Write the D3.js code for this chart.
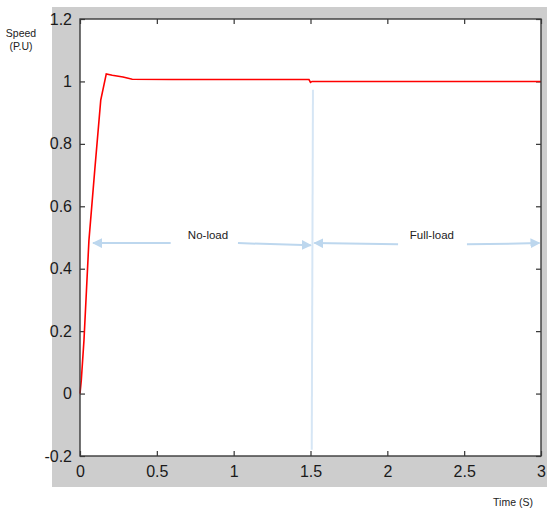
<!DOCTYPE html>
<html>
<head>
<meta charset="utf-8">
<script src="https://cdn.jsdelivr.net/npm/d3@7"></script>
<style>
  body { margin: 0; background: #fff; }
  svg text { font-family: "Liberation Sans Narrow", "Arial Narrow", "Liberation Sans", sans-serif; }
</style>
</head>
<body>
<div id="chart"></div>
<script>
// speed response
const timeS   = [0, 0.0085, 0.026, 0.042, 0.058, 0.096, 0.135, 0.171, 0.21, 0.28, 0.34, 0.6, 1.0, 1.49, 1.5, 1.51, 2.0, 3.0];
const speedPU = [0, 0.043, 0.172, 0.33, 0.49, 0.716, 0.94, 1.024, 1.02, 1.014, 1.007, 1.006, 1.006, 1.006, 0.997, 1.0, 1.0, 1.0];

const xTicks = [0, 0.5, 1, 1.5, 2, 2.5, 3];
const yTicks = [-0.2, 0, 0.2, 0.4, 0.6, 0.8, 1, 1.2];

// annotation arrows (data coords)
const noLoadArrow   = [[0.59, 0.482], [0.085, 0.482]];
const noLoadArrow2  = [[1.028, 0.482], [1.502, 0.475]];
const fullLoadArrow = [[2.07, 0.478], [1.525, 0.482]];
const fullLoadArrow2 = [[2.518, 0.478], [2.99, 0.482]];
const loadStep = [[1.516, 0.973], [1.508, -0.18]];
const labels = [{t: 0.833, v: 0.505, text: "No-load"}, {t: 2.29, v: 0.505, text: "Full-load"}];

const W = 547, H = 509;
const margin = {top: 19, right: 6, bottom: 53, left: 80};
const width = W - margin.left - margin.right;
const height = H - margin.top - margin.bottom;

const svg = d3.select("#chart").append("svg")
  .attr("width", W)
  .attr("height", H);

// grey figure background
svg.append("rect")
  .attr("x", 52).attr("y", 7)
  .attr("width", 495).attr("height", 480)
  .attr("fill", "#cdcdcd");

const g = svg.append("g")
  .attr("transform", `translate(${margin.left},${margin.top})`);

const x = d3.scaleLinear().domain([0, 3]).range([0, width]);
const y = d3.scaleLinear().domain([-0.2, 1.2]).range([height, 0]);

g.append("rect")
  .attr("width", width).attr("height", height)
  .attr("fill", "#fff");

const fmt = d => String(d);

// axes with inward ticks, mirrored on top / right like a boxed plot
const tickCol = "#333";
g.append("g").attr("transform", `translate(0,${height})`)
  .call(d3.axisBottom(x).tickValues(xTicks).tickSize(-5).tickPadding(10).tickFormat(fmt))
  .call(a => a.select(".domain").remove());
g.append("g")
  .call(d3.axisTop(x).tickValues(xTicks).tickSize(-5).tickFormat(""))
  .call(a => a.select(".domain").remove());
g.append("g")
  .call(d3.axisLeft(y).tickValues(yTicks).tickSize(-5).tickPadding(8).tickFormat(fmt))
  .call(a => a.select(".domain").remove());
g.append("g").attr("transform", `translate(${width},0)`)
  .call(d3.axisRight(y).tickValues(yTicks).tickSize(-5).tickFormat(""))
  .call(a => a.select(".domain").remove());

g.selectAll(".tick line").attr("stroke", tickCol).attr("stroke-width", 1.2);
g.selectAll(".tick text")
  .attr("fill", "#1a1a1a")
  .attr("font-size", 16)
  .attr("font-family", "'Liberation Sans Narrow', 'Arial Narrow', sans-serif");

// annotations
const arrowCol = "#bdd7ee";
const defs = svg.append("defs");
defs.append("marker")
  .attr("id", "ah")
  .attr("viewBox", "0 0 10 10")
  .attr("refX", 9).attr("refY", 5)
  .attr("markerWidth", 5).attr("markerHeight", 5)
  .attr("markerUnits", "strokeWidth")
  .attr("orient", "auto")
  .append("path")
  .attr("d", "M0,0 L10,5 L0,10 Z")
  .attr("fill", arrowCol);

const line = d3.line().x(d => x(d[0])).y(d => y(d[1]));

g.append("path")
  .datum(loadStep)
  .attr("d", line)
  .attr("stroke", "#d6e6f5")
  .attr("stroke-width", 2)
  .attr("fill", "none");

[noLoadArrow, noLoadArrow2, fullLoadArrow, fullLoadArrow2].forEach(seg => {
  g.append("path")
    .datum(seg)
    .attr("d", line)
    .attr("stroke", arrowCol)
    .attr("stroke-width", 2)
    .attr("fill", "none")
    .attr("marker-end", "url(#ah)");
});

g.selectAll(".lbl")
  .data(labels)
  .enter().append("text")
  .attr("class", "lbl")
  .attr("x", d => x(d.t))
  .attr("y", d => y(d.v))
  .attr("text-anchor", "middle")
  .attr("dominant-baseline", "middle")
  .attr("font-size", 11.5)
  .attr("font-family", "'Liberation Sans', Arial, sans-serif")
  .attr("fill", "#222")
  .text(d => d.text);

// speed trace
g.append("path")
  .datum(timeS.map((t, i) => [t, speedPU[i]]))
  .attr("d", line)
  .attr("stroke", "#ff0000")
  .attr("stroke-width", 1.6)
  .attr("fill", "none");

// plot box
g.append("rect")
  .attr("width", width).attr("height", height)
  .attr("fill", "none")
  .attr("stroke", "#3a3a3a")
  .attr("stroke-width", 1.4);

// axis titles
const small = "'Liberation Sans', Arial, sans-serif";
svg.append("text").attr("x", 21).attr("y", 37).attr("text-anchor", "middle")
  .attr("font-size", 10.5).attr("font-family", small).attr("fill", "#222").text("Speed");
svg.append("text").attr("x", 21).attr("y", 50).attr("text-anchor", "middle")
  .attr("font-size", 10.5).attr("font-family", small).attr("fill", "#222").text("(P.U)");
svg.append("text").attr("x", 513).attr("y", 506).attr("text-anchor", "middle")
  .attr("font-size", 10.5).attr("font-family", small).attr("fill", "#222").text("Time (S)");
</script>
</body>
</html>
